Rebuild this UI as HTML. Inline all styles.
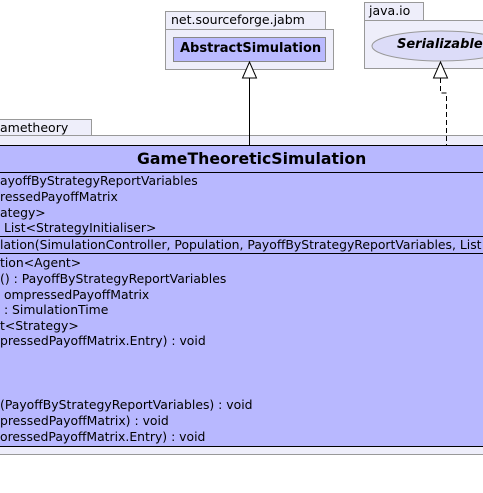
<!DOCTYPE html>
<html><head><meta charset="utf-8"><style>
body{margin:0;width:483px;height:493px;background:#fff;overflow:hidden;position:relative;font-family:"DejaVu Sans",sans-serif;}
.a{position:absolute;box-sizing:border-box;}
.t{position:absolute;font-size:12.4px;white-space:nowrap;color:#000;line-height:14px;}
</style></head><body>
<svg class="a" style="left:0;top:0" width="483" height="493">
<rect x="165.5" y="11.5" width="160" height="18" fill="#eeeefa" stroke="#999"/>
<rect x="165.5" y="29.5" width="168" height="40" fill="#eeeefa" stroke="#999"/>
<rect x="173.5" y="37.5" width="152" height="24" fill="#babaff" stroke="#888"/>
<rect x="364.5" y="2.5" width="59" height="18" fill="#eeeefa" stroke="#999"/>
<rect x="364.5" y="20.5" width="130" height="48" fill="#eeeefa" stroke="#999"/>
<ellipse cx="441" cy="46" rx="69" ry="15" fill="#dcdcf8" stroke="#999"/>
<rect x="-5.5" y="119.5" width="97" height="16" fill="#eeeefa" stroke="#999"/>
<rect x="-5.5" y="135.5" width="500" height="319" fill="#eeeefa" stroke="#999"/>
<rect x="-5.5" y="145.5" width="500" height="301" fill="#b8b8ff" stroke="#000"/>
<line x1="0" y1="172.5" x2="483" y2="172.5" stroke="#000"/>
<line x1="0" y1="236.5" x2="483" y2="236.5" stroke="#000"/>
<line x1="0" y1="253.5" x2="483" y2="253.5" stroke="#000"/>
<line x1="249.5" y1="78" x2="249.5" y2="145" stroke="#000"/>
<polygon points="249.5,62 242.5,78 256.5,78" fill="#fff" stroke="#000"/>
<polyline points="440.5,78 440.5,93 446.5,93 446.5,145" fill="none" stroke="#000" stroke-dasharray="5,3"/>
<polygon points="440.5,62 433.5,78 447.5,78" fill="#fff" stroke="#000"/>
</svg>
<div class="t" style="left:171px;top:13px;font-size:12.5px">net.sourceforge.jabm</div>
<div class="t" style="left:180px;top:42px;font-weight:bold;font-size:13px">AbstractSimulation</div>
<div class="t" style="left:369px;top:4px;font-size:12.5px">java.io</div>
<div class="t" style="left:397px;top:38px;font-weight:bold;font-style:italic;font-size:13px">Serializable</div>
<div class="t" style="left:0;top:121px;font-size:12.5px">ametheory</div>
<div class="t" style="left:137px;top:149px;font-weight:bold;font-size:15.7px;line-height:20px">GameTheoreticSimulation</div>
<div class="t" style="left:0;top:174px">ayoffByStrategyReportVariables</div>
<div class="t" style="left:0;top:190px">ressedPayoffMatrix</div>
<div class="t" style="left:0;top:206px">ategy&gt;</div>
<div class="t" style="left:0;top:221px">&nbsp;List&lt;StrategyInitialiser&gt;</div>
<div class="t" style="left:0;top:238px">lation(SimulationController, Population, PayoffByStrategyReportVariables, List</div>
<div class="t" style="left:0;top:256px">tion&lt;Agent&gt;</div>
<div class="t" style="left:0;top:272px">() : PayoffByStrategyReportVariables</div>
<div class="t" style="left:0;top:288px">&nbsp;ompressedPayoffMatrix</div>
<div class="t" style="left:0;top:303px">&nbsp;: SimulationTime</div>
<div class="t" style="left:0;top:319px">t&lt;Strategy&gt;</div>
<div class="t" style="left:0;top:334px">pressedPayoffMatrix.Entry) : void</div>
<div class="t" style="left:0;top:398px">(PayoffByStrategyReportVariables) : void</div>
<div class="t" style="left:0;top:414px">pressedPayoffMatrix) : void</div>
<div class="t" style="left:0;top:430px">oressedPayoffMatrix.Entry) : void</div>
</body></html>
